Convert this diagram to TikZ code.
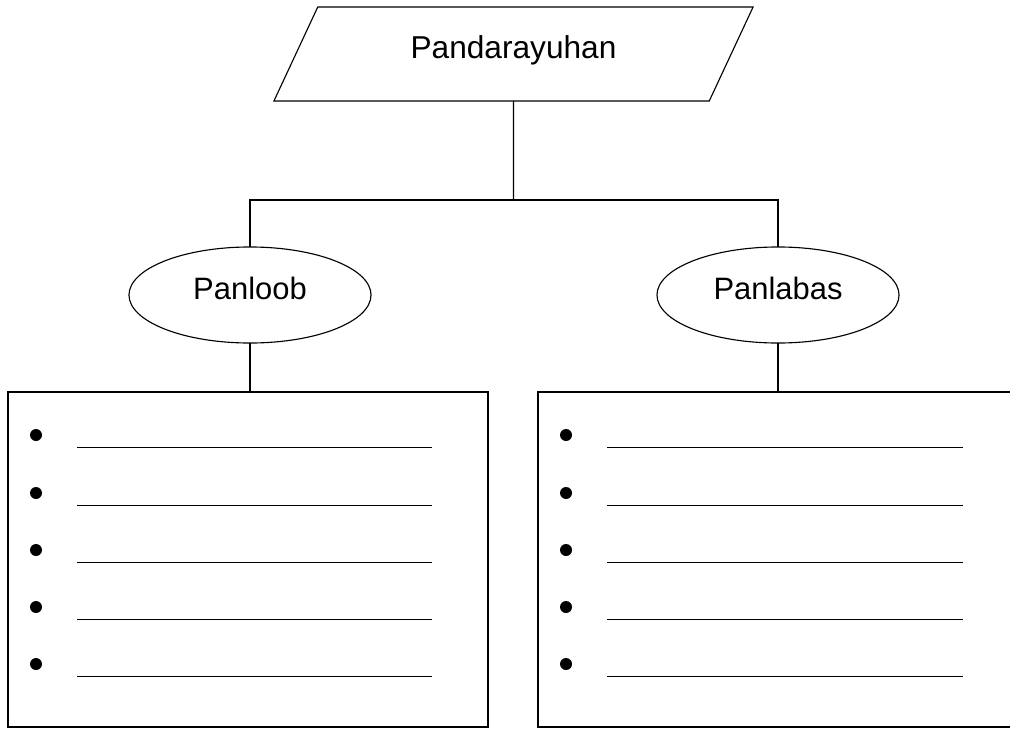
\documentclass[tikz,border=0pt]{standalone}
\usepackage{fontspec}
\setmainfont{Liberation Sans}
\usetikzlibrary{shapes.geometric}
\begin{document}
\begin{tikzpicture}[x=0.025cm, y=-0.025cm, line width=0.8pt,
    font=\fontsize{22}{26}\selectfont,
    topicbox/.style={draw, trapezium, trapezium left angle=65, trapezium right angle=115,
        trapezium stretches body, minimum width=11.975cm, text height=16pt, text depth=10pt,
        inner xsep=0pt, inner ysep=20.4pt, outer sep=0pt, font=\fontsize{22.5}{26}\selectfont},
    kind/.style={draw, ellipse, minimum width=6.05cm, minimum height=2.4cm, text height=16pt,
        text depth=9pt, outer sep=0pt},
    listbox/.style={draw, line width=1.2pt, minimum height=8.375cm, anchor=north west, outer sep=0pt}]
        \useasboundingbox (0,0) rectangle (1010,728);

        \node[topicbox] (topic) at (513.5,54) {Pandarayuhan};
        \coordinate (split) at (513.5,200);

        \node[kind] (inner) at (250,295) {Panloob};
        \node[kind] (outer) at (778,295) {Panlabas};

        \node[listbox, minimum width=12cm] (inbox) at (8,392) {};
        \node[listbox, minimum width=12.3cm] (outbox) at (538,392) {};

        \draw (topic.south) -- (split);
        \draw (inner.north) |- (split) -| (outer.north);
        \draw (inner.south) -- (inner.south |- inbox.north);
        \draw (outer.south) -- (outer.south |- outbox.north);

        \foreach \y in {435,493,550,607,664} {
            \fill (36,\y) circle (0.15cm);
            \draw[line width=0.7pt] (77,\y+12) -- (432,\y+12);
            \fill (566,\y) circle (0.15cm);
            \draw[line width=0.7pt] (607,\y+12) -- (963,\y+12);
        }
    \end{tikzpicture}
\end{document}
